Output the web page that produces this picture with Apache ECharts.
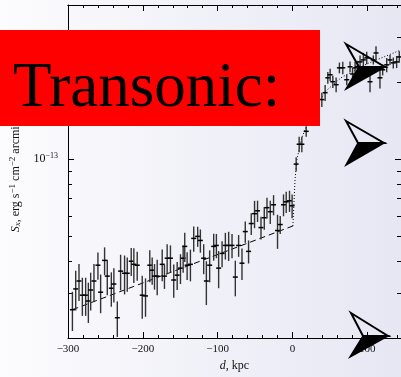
<!DOCTYPE html>
<html>
<head>
<meta charset="utf-8">
<script src="https://cdn.jsdelivr.net/npm/echarts@6/dist/echarts.min.js"></script>
<style>
  html, body { margin: 0; padding: 0; }
  #main { width: 401px; height: 377px; }
</style>
</head>
<body>
<div id="main"></div>
<script>
// distance from the front, kpc
var dist = [-294.1, -289.7, -285.3, -280.8, -276.4, -272.8, -269.7, -265.3, -260, -256.4,
  -251.1, -247.5, -242.1, -238.7, -234.1, -229.7, -224.4, -220.8, -215.5, -212,
  -207.5, -200.8, -196.4, -190.7, -187.5, -184.4, -180.8, -174.1, -171.1, -167.5,
  -163.1, -158.7, -154.1, -149.7, -146.1, -144, -140.8, -136.4, -132, -126.7,
  -123.1, -118.7, -115.1, -110.7, -105.3, -101.7, -98.7, -94.1, -89.7, -85.3,
  -80.8, -76.4, -72, -67.5, -63.1, -58.7, -55.1, -50.7, -46.7, -42.1,
  -37.7, -34.1, -29.7, -25.3, -20, -16.4, -12, -8.4, -4, -0.5,
  4.9, 8.9, 12.5, 18.3, 22.9, 27.6, 32.3, 39.2, 43.6, 47.2,
  50.3, 53.9, 58.3, 62.7, 67.2, 72.5, 76.9, 80.3, 83.6, 87,
  90.3, 94.7, 99.2, 103.6, 108, 111.6, 116.9, 120.5, 125.9, 130.3,
  134.7, 139.2, 142.7];
// surface brightness, 1e-14 erg s^-1 cm^-2 arcmin^-2
var flux = [2.58, 3.11, 3.34, 2.94, 2.94, 2.79, 3.08, 3.34, 3.85, 3.02,
  4.02, 3.49, 3.13, 3.25, 2.40, 3.65, 3.58, 3.58, 3.99, 3.88,
  3.85, 2.94, 2.92, 3.85, 3.68, 3.49, 3.49, 3.88, 3.49, 4.10,
  4.10, 3.37, 3.52, 3.75, 4.10, 4.56, 3.85, 3.88, 4.90, 4.99,
  4.81, 4.10, 3.34, 3.85, 4.56, 4.60, 3.75, 4.28, 4.60, 4.60,
  4.60, 3.46, 4.60, 3.92, 5.21, 4.36, 5.60, 6.12, 6.28, 5.40,
  5.90, 6.46, 6.23, 6.63, 5.26, 5.55, 6.63, 6.81, 6.87, 6.57,
  9.56, 11.43, 11.43, 12.84, 14.29, 15.35, 15.91, 17.08, 18.18, 20.78,
  21.35, 20.06, 19.53, 22.73, 22.73, 20.42, 22.94, 21.5, 22.73, 23.0,
  23.98, 24.41, 24.85, 20.06, 24.41, 25.98, 20.78, 22.33, 23.35, 24.41,
  23.77, 23.98, 25.07];
var fluxErr = [0.45, 0.55, 0.55, 0.50, 0.50, 0.50, 0.52, 0.55, 0.47, 0.52,
  0.50, 0.55, 0.48, 0.50, 0.38, 0.58, 0.62, 0.55, 0.50, 0.60,
  0.50, 0.56, 0.50, 0.55, 0.45, 0.40, 0.55, 0.55, 0.38, 0.55,
  0.50, 0.50, 0.44, 0.50, 0.50, 0.60, 0.48, 0.55, 0.55, 0.45,
  0.50, 0.55, 0.65, 0.55, 0.55, 0.50, 0.62, 0.50, 0.55, 0.60,
  0.50, 0.55, 0.45, 0.55, 0.50, 0.45, 0.55, 0.75, 0.60, 0.55,
  0.60, 0.60, 0.65, 0.60, 0.80, 0.45, 0.65, 0.65, 0.65, 0.70,
  0.6, 0.8, 0.8, 0.6, 0.8, 0.8, 0.9, 1.1, 1.3, 1.1,
  1.2, 1.1, 1.3, 1.1, 1.3, 1.0, 1.1, 1.2, 1.3, 1.2,
  1.4, 1.6, 1.4, 1.8, 1.0, 1.6, 1.9, 1.1, 1.5, 1.1,
  1.2, 1.3, 1.3];

// dashed fit inside, dotted model across the jump
var fitD = [-294, 0.5];
var fitS = [2.58, 5.48];
var modelD = [0.5, 3.5, 6, 12, 25, 45, 65, 100, 145];
var modelS = [5.48, 8.4, 10, 12, 15, 18.5, 20.8, 23.6, 26.7];

var xMajor = [-300, -200, -100, 0, 100];
var xMinor = [-280, -260, -240, -220, -180, -160, -140, -120, -80, -60, -40, -20, 20, 40, 60, 80, 120, 140];
var yMajor = [10];
var yMinor = [3, 4, 5, 6, 7, 8, 9, 20, 30];

var serif = '"Liberation Serif", "DejaVu Serif", serif';

var chart = echarts.init(document.getElementById('main'));

var points = dist.map(function (d, i) {
  return [d, flux[i], flux[i] - fluxErr[i], flux[i] + fluxErr[i]];
});

function xAx(pos, ticks, len, labels) {
  return {
    type: 'value', position: pos, min: -300, max: 145,
    axisLine: { show: !!labels || pos == 'top', onZero: false, lineStyle: { color: '#000', width: 1 } },
    axisTick: { inside: true, length: len, customValues: ticks, lineStyle: { color: '#000' } },
    axisLabel: labels ? {
      customValues: xMajor, margin: 6, fontFamily: serif, fontSize: 11, color: '#111',
      formatter: function (v) { return String(v).replace('-', '\u2212'); }
    } : { show: false },
    splitLine: { show: false },
    name: labels ? '{i|d}, kpc' : '',
    nameLocation: 'middle', nameGap: 22,
    nameTextStyle: { fontFamily: serif, fontSize: 12, color: '#111', rich: { i: { fontFamily: serif, fontSize: 12, fontStyle: 'italic' } } }
  };
}

function yAx(pos, ticks, len, labels) {
  return {
    type: 'log', position: pos, min: 2, max: 40, logBase: 10,
    axisLine: { show: !!labels || pos == 'right', onZero: false, lineStyle: { color: '#000', width: 1 } },
    axisTick: { inside: true, length: len, customValues: ticks, lineStyle: { color: '#000' } },
    axisLabel: labels ? {
      customValues: yMajor, margin: 10, fontFamily: serif, color: '#111',
      formatter: function () { return '{b|10}{s|\u221213}'; },
      rich: {
        b: { fontFamily: serif, fontSize: 12, color: '#111' },
        s: { fontFamily: serif, fontSize: 8, color: '#111', padding: [0, 0, 7, 0] }
      }
    } : { show: false },
    splitLine: { show: false },
    name: labels ? '{i|S}{sub|x}, erg s{sup|\u22121} cm{sup|\u22122} arcmin{sup|\u22122}' : '',
    nameLocation: 'middle', nameGap: 44, nameRotate: 90,
    nameTextStyle: {
      fontFamily: serif, fontSize: 12, color: '#111',
      rich: {
        i: { fontFamily: serif, fontSize: 12, fontStyle: 'italic' },
        sub: { fontFamily: serif, fontSize: 9, fontStyle: 'italic', padding: [5, 0, 0, 0] },
        sup: { fontFamily: serif, fontSize: 9, padding: [0, 0, 6, 0] }
      }
    }
  };
}

// arrow glyph: hollow upper half, filled lower half
function arrow(tl, tip, notch, bl) {
  return [
    { type: 'polygon', z: 100, shape: { points: [tl, tip, notch] }, style: { fill: 'none', stroke: '#000', lineWidth: 2 } },
    { type: 'polygon', z: 100, shape: { points: [notch, tip, bl] }, style: { fill: '#000', stroke: '#000', lineWidth: 1.5 } }
  ];
}

var option = {
  backgroundColor: {
    type: 'linear', x: 0, y: 0, x2: 1, y2: 0,
    colorStops: [{ offset: 0, color: '#fcfcfe' }, { offset: 1, color: '#e6e7f3' }]
  },
  animation: false,
  grid: { left: 68, right: 0, top: 5, bottom: 36 },
  xAxis: [
    xAx('bottom', xMajor, 6, true),
    xAx('bottom', xMinor, 3, false),
    xAx('top', xMajor, 6, false),
    xAx('top', xMinor, 3, false)
  ],
  yAxis: [
    yAx('left', yMajor, 6, true),
    yAx('left', yMinor, 4, false),
    yAx('right', yMajor, 6, false),
    yAx('right', yMinor, 4, false)
  ],
  series: [
    {
      type: 'line', data: fitD.map(function (d, i) { return [d, fitS[i]]; }),
      symbol: 'none', lineStyle: { color: '#000', width: 1, type: [6, 4] }, z: 3
    },
    {
      type: 'line', data: modelD.map(function (d, i) { return [d, modelS[i]]; }),
      symbol: 'none', lineStyle: { color: '#000', width: 1, type: [1, 2] }, z: 3
    },
    {
      type: 'custom', data: points, clip: true, z: 4,
      renderItem: function (params, api) {
        var top = api.coord([api.value(0), api.value(3)]);
        var bot = api.coord([api.value(0), api.value(2)]);
        var mid = api.coord([api.value(0), api.value(1)]);
        return {
          type: 'group',
          children: [
            { type: 'line', shape: { x1: top[0], y1: top[1], x2: bot[0], y2: bot[1] }, style: { stroke: '#333', lineWidth: 1.4 } },
            { type: 'line', shape: { x1: mid[0] - 2.5, y1: mid[1], x2: mid[0] + 2.5, y2: mid[1] }, style: { stroke: '#000', lineWidth: 1.5 } }
          ]
        };
      }
    }
  ],
  graphic: [
    { type: 'rect', z: 90, shape: { x: 0, y: 30, width: 320, height: 96 }, style: { fill: '#ff0000' } },
    { type: 'text', z: 91, style: { text: 'Transonic:', x: 13, y: 89, font: '63px "Liberation Serif"', fill: '#000', verticalAlign: 'middle' } }
  ].concat(
    arrow([346, 44], [385, 67], [359, 67], [346, 89]),
    arrow([346, 121], [384, 143], [358, 143], [346, 165]),
    arrow([351, 313], [388, 336], [363, 336], [350, 357])
  )
};

chart.setOption(option);
</script>
</body>
</html>
